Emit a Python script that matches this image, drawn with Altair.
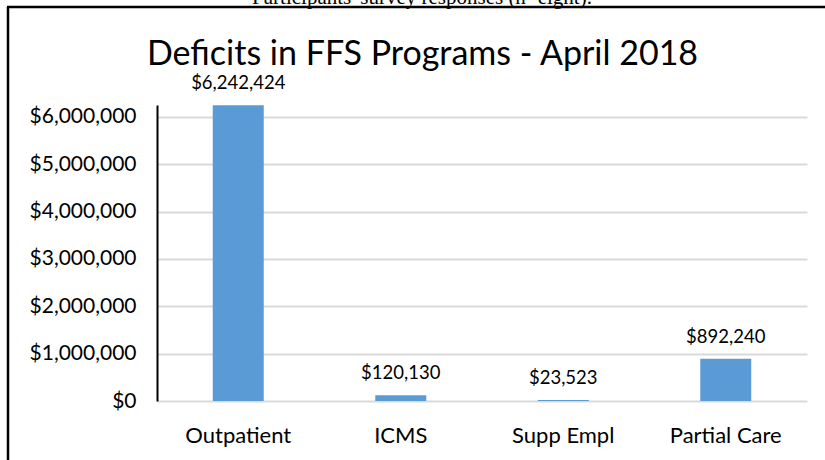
import altair as alt
import pandas as pd

categories = ["Outpatient", "ICMS", "Supp Empl", "Partial Care"]
deficits = [6242424, 120130, 23523, 892240]
labels = ["$6,242,424", "$120,130", "$23,523", "$892,240"]
y_ticks = [0, 1000000, 2000000, 3000000, 4000000, 5000000, 6000000]
title_text = "Deficits in FFS Programs - April 2018"
header_text = "Participants' survey responses (n=eight)."

df = pd.DataFrame({"program": categories, "deficit": deficits, "label": labels})

FONT = "Lato"

base = alt.Chart(df)

bars = base.mark_bar(color="#5b9bd5", size=51).encode(
    x=alt.X("program:N", sort=categories, title=None,
            scale=alt.Scale(paddingInner=0, paddingOuter=0),
            axis=alt.Axis(labelAngle=0, labelFontSize=22, labelFont=FONT,
                          labelColor="#000000", labelPadding=24, ticks=False,
                          domain=False, grid=False)),
    y=alt.Y("deficit:Q", title=None,
            scale=alt.Scale(domain=[0, 6250000], nice=False),
            axis=alt.Axis(values=y_ticks, format="$,.0f", labelFontSize=21,
                          labelFont=FONT, labelColor="#000000", labelPadding=21,
                          ticks=False, domain=True, domainColor="#000000",
                          domainWidth=2, grid=True, gridColor="#d9d9d9",
                          gridWidth=2)),
)

text = base.mark_text(baseline="middle", dy=-22, fontSize=18.5, font=FONT,
                      color="#000000").encode(
    x=alt.X("program:N", sort=categories),
    y="deficit:Q",
    text="label:N",
)

title = alt.Chart(pd.DataFrame({"t": [title_text]})).mark_text(
    fontSize=34, font=FONT, color="#000000", baseline="middle", align="center"
).encode(text="t:N", x=alt.value(265.5), y=alt.value(-50))

header = alt.Chart(pd.DataFrame({"t": [header_text]})).mark_text(
    fontSize=21, font="Liberation Serif", color="#000000",
    baseline="alphabetic", align="center"
).encode(text="t:N", x=alt.value(265), y=alt.value(-101.5))

border_left = alt.Chart(pd.DataFrame({"a": [0]})).mark_rule(
    color="#000000", strokeWidth=2.5
).encode(x=alt.value(-149), y=alt.value(-98), y2=alt.value(400))

border_top = alt.Chart(pd.DataFrame({"a": [0]})).mark_rule(
    color="#000000", strokeWidth=2.5
).encode(x=alt.value(-150), x2=alt.value(700), y=alt.value(-98))

chart = alt.layer(bars, text, title, header, border_left, border_top).properties(
    width=650, height=296,
    padding={"left": 157, "top": 105, "right": 18, "bottom": 59},
    autosize=alt.AutoSizeParams(type="none"),
    background="#ffffff",
).configure_view(stroke=None)

chart.save("out.html", embed_options={"renderer": "svg", "actions": False})
